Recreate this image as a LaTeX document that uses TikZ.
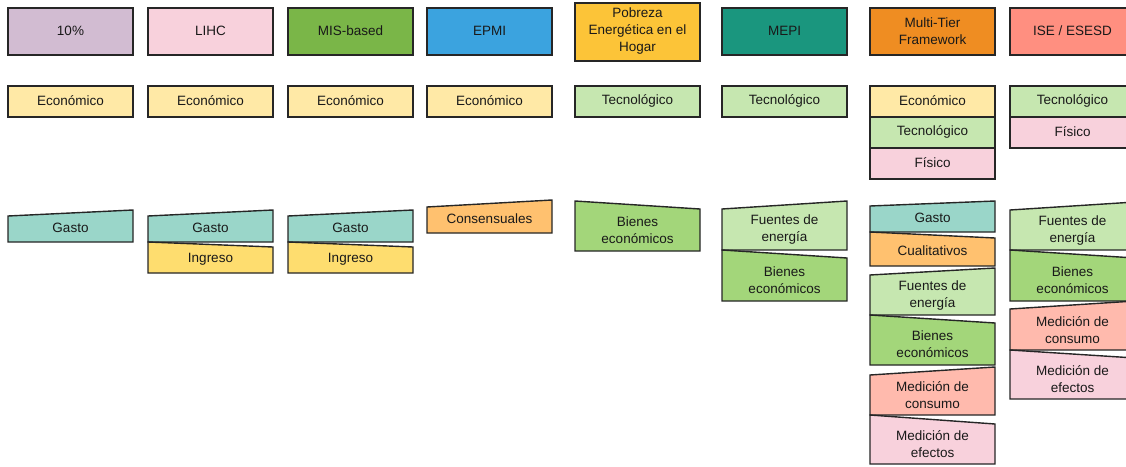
\documentclass[tikz,border=0pt]{standalone}
\usepackage{fontspec}
\setmainfont{Liberation Sans}
\definecolor{cLav}{HTML}{D2BCD2}
\definecolor{cPink}{HTML}{F8D1DC}
\definecolor{cGreen}{HTML}{7AB648}
\definecolor{cBlue}{HTML}{3BA3DF}
\definecolor{cGold}{HTML}{FCC438}
\definecolor{cTeal}{HTML}{1A967E}
\definecolor{cOrange}{HTML}{EF8D22}
\definecolor{cSalmon}{HTML}{FF8F80}
\definecolor{cEco}{HTML}{FFE9A6}
\definecolor{cTec}{HTML}{C6E7B0}
\definecolor{cGasto}{HTML}{9AD6C9}
\definecolor{cIngreso}{HTML}{FEDD6F}
\definecolor{cCons}{HTML}{FFC16F}
\definecolor{cBienes}{HTML}{A3D67A}
\definecolor{cMedC}{HTML}{FFBAAD}
\tikzset{
  box/.style={draw=black!85, line width=1.4pt, line join=miter},
  lbl/.style={font=\fontsize{13.5}{17}\selectfont, text=black!90, align=center, inner sep=0pt},
}
% rectangle box: name, x, ytop, ybottom, colour, text
\newcommand\rectlbl[6]{%
  \path[box, fill=#5] (#2,#3) rectangle ({#2+125},#4);
  \node[lbl] (#1) at ({#2+62.5},{(#3+#4)/2-0.5}) {#6};
}
% slanted box: [text offset], name, x, y top-left, y top-right, y bottom, colour, text
\newcommand\slantlbl[8][0]{%
  \path[box, fill=#7] (#3,#6) -- (#3,#4) -- ({#3+125},#5) -- ({#3+125},#6) -- cycle;
  \node[lbl] (#2) at ({#3+62.5},{(#4+#5)/4+#6/2+#1}) {#8};
}
\begin{document}
\begin{tikzpicture}[x=1pt,y=-1pt]
\useasboundingbox (0,0) rectangle (1126,466);
\clip (0,0) rectangle (1126,466);
% headers
\rectlbl{h1}{8}{8}{55}{cLav}{10\%}
\rectlbl{h2}{148}{8}{55}{cPink}{LIHC}
\rectlbl{h3}{288}{8}{55}{cGreen}{MIS-based}
\rectlbl{h4}{427}{8}{55}{cBlue}{EPMI}
\rectlbl{h5}{575}{3}{61}{cGold}{Pobreza\\Energética en el\\Hogar}
\rectlbl{h6}{722}{8}{55}{cTeal}{MEPI}
\rectlbl{h7}{870}{8}{55}{cOrange}{Multi-Tier\\Framework}
\rectlbl{h8}{1010}{8}{55}{cSalmon}{ISE / ESESD}
% dimensions
\rectlbl{d1}{8}{86}{117}{cEco}{Económico}
\rectlbl{d2}{148}{86}{117}{cEco}{Económico}
\rectlbl{d3}{288}{86}{117}{cEco}{Económico}
\rectlbl{d4}{427}{86}{117}{cEco}{Económico}
\rectlbl{d5}{575}{86}{117}{cTec}{Tecnológico}
\rectlbl{d6}{722}{86}{117}{cTec}{Tecnológico}
\rectlbl{d7a}{870}{86}{117}{cEco}{Económico}
\rectlbl{d7b}{870}{117}{148}{cTec}{Tecnológico}
\rectlbl{d7c}{870}{148}{179}{cPink}{Físico}
\rectlbl{d8a}{1010}{86}{117}{cTec}{Tecnológico}
\rectlbl{d8b}{1010}{117}{148}{cPink}{Físico}
% indicators
\slantlbl{i1}{8}{216}{210}{242}{cGasto}{Gasto}
\slantlbl{i2a}{148}{216}{210}{242}{cGasto}{Gasto}
\slantlbl[1]{i2b}{148}{242}{247}{273}{cIngreso}{Ingreso}
\slantlbl{i3a}{288}{216}{210}{242}{cGasto}{Gasto}
\slantlbl[1]{i3b}{288}{242}{247}{273}{cIngreso}{Ingreso}
\slantlbl{i4}{427}{207}{200}{233}{cCons}{Consensuales}
\slantlbl[2.5]{i5}{575}{201}{209}{251}{cBienes}{Bienes\\económicos}
\slantlbl[2.5]{i6a}{722}{209}{201}{250}{cTec}{Fuentes de\\energía}
\slantlbl[2.5]{i6b}{722}{250}{258}{301}{cBienes}{Bienes\\económicos}
\slantlbl{i7a}{870}{206}{201}{232}{cGasto}{Gasto}
\slantlbl{i7b}{870}{232}{238}{266}{cCons}{Cualitativos}
\slantlbl[2.5]{i7c}{870}{275}{268}{315}{cTec}{Fuentes de\\energía}
\slantlbl[2.5]{i7d}{870}{315}{323}{365}{cBienes}{Bienes\\económicos}
\slantlbl[2.5]{i7e}{870}{375}{367}{415}{cMedC}{Medición de\\consumo}
\slantlbl[2.5]{i7f}{870}{415}{424}{464}{cPink}{Medición de\\efectos}
\slantlbl[2.5]{i8a}{1010}{210}{202}{250}{cTec}{Fuentes de\\energía}
\slantlbl[2.5]{i8b}{1010}{250}{258}{301}{cBienes}{Bienes\\económicos}
\slantlbl[2.5]{i8c}{1010}{309}{301}{350}{cMedC}{Medición de\\consumo}
\slantlbl[2.5]{i8d}{1010}{350}{358}{399}{cPink}{Medición de\\efectos}
\end{tikzpicture}
\end{document}
